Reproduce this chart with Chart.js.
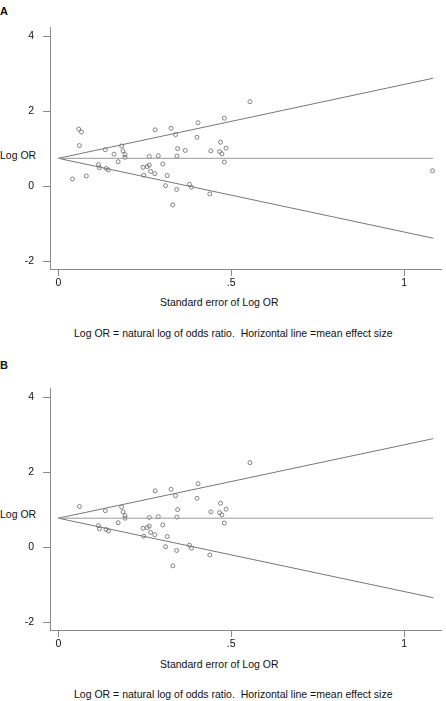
<!DOCTYPE html>
<html>
<head>
<meta charset="utf-8">
<script src="https://cdn.jsdelivr.net/npm/chart.js@4.4.0/dist/chart.umd.min.js"></script>
<style>
  html, body { margin: 0; padding: 0; background: #fff; }
  #wrap { position: relative; width: 446px; height: 701px; overflow: hidden; font-family: "Liberation Sans", Arial, Helvetica, sans-serif; color: #111; }
  canvas { position: absolute; left: 0; }
  .t { position: absolute; font-size: 10.5px; line-height: 12px; white-space: pre; }
  .p { position: absolute; font-size: 11px; font-weight: bold; line-height: 12px; }
</style>
</head>
<body>
<div id="wrap">
  <div class="p" style="left:0px; top:5px;">A</div>
  <div class="t" style="left:0px; top:149px;">Log OR</div>
  <div class="t" style="left:160px; top:296px;">Standard error of Log OR</div>
  <div class="t" style="left:74px; top:327px;">Log OR = natural log of odds ratio.  Horizontal line =mean effect size</div>
  <canvas id="cA" width="446" height="300" style="top:0px;"></canvas>

  <div class="p" style="left:0px; top:359px;">B</div>
  <div class="t" style="left:0px; top:508px;">Log OR</div>
  <div class="t" style="left:160px; top:658px;">Standard error of Log OR</div>
  <div class="t" style="left:74px; top:688px;">Log OR = natural log of odds ratio.  Horizontal line =mean effect size</div>
  <canvas id="cB" width="446" height="300" style="top:361px;"></canvas>
</div>
<script>
// ---- tick labels ----
const xTickValues = [0, 0.5, 1];
const xTickLabels = ['0', '.5', '1'];
const yTickValues = [-2, 0, 2, 4];
const yTickLabels = ['-2', '0', '2', '4'];

// ---- Panel A: standard error and log OR of each study ----
const seA = [0.059, 0.067, 0.061, 0.041, 0.081, 0.116, 0.119, 0.138, 0.145, 0.136,
             0.161, 0.173, 0.183, 0.187, 0.193, 0.193, 0.247, 0.245, 0.257, 0.263,
             0.263, 0.267, 0.279, 0.280, 0.289, 0.302, 0.315, 0.310, 0.326, 0.339,
             0.345, 0.343, 0.342, 0.367, 0.379, 0.385, 0.404, 0.401, 0.438, 0.441,
             0.469, 0.466, 0.473, 0.480, 0.485, 0.480, 0.331, 0.554, 1.082];
const lorA = [1.53, 1.45, 1.09, 0.20, 0.28, 0.58, 0.50, 0.48, 0.44, 0.98,
              0.86, 0.66, 1.08, 0.95, 0.85, 0.78, 0.30, 0.51, 0.53, 0.57,
              0.80, 0.40, 0.34, 1.51, 0.82, 0.60, 0.29, 0.02, 1.55, 1.38,
              1.01, 0.81, -0.08, 0.96, 0.06, -0.02, 1.70, 1.31, -0.20, 0.95,
              1.18, 0.93, 0.87, 1.82, 1.02, 0.65, -0.49, 2.26, 0.42];

// ---- Panel B ----
const seB = [0.061, 0.116, 0.119, 0.138, 0.145, 0.136, 0.173, 0.183, 0.187, 0.193,
             0.193, 0.247, 0.245, 0.257, 0.263, 0.263, 0.267, 0.279, 0.280, 0.289,
             0.302, 0.315, 0.310, 0.326, 0.339, 0.345, 0.343, 0.342, 0.379, 0.385,
             0.404, 0.401, 0.438, 0.441, 0.469, 0.466, 0.473, 0.485, 0.480, 0.331,
             0.554];
const lorB = [1.09, 0.58, 0.50, 0.48, 0.44, 0.98, 0.66, 1.08, 0.95, 0.85,
              0.78, 0.30, 0.51, 0.53, 0.57, 0.80, 0.40, 0.34, 1.51, 0.82,
              0.60, 0.29, 0.02, 1.55, 1.38, 1.01, 0.81, -0.08, 0.06, -0.02,
              1.70, 1.31, -0.20, 0.95, 1.18, 0.93, 0.87, 1.02, 0.65, -0.49,
              2.26];

// ---- funnel lines (end points) ----
const lineX = [0, 1.084];
const meanA = [0.75, 0.75];
const upperA = [0.75, 2.885];
const lowerA = [0.75, -1.38];
const meanB = [0.78, 0.78];
const upperB = [0.78, 2.90];
const lowerB = [0.78, -1.34];

const FONT = { family: '"Liberation Sans", Arial, Helvetica, sans-serif', size: 10.5 };
const AXIS_COLOR = '#8a8a8a';
const LINE_COLOR = '#777777';
const MEAN_COLOR = '#9a9a9a';

function pts(xs, ys) { return xs.map((x, i) => ({ x: x, y: ys[i] })); }

function lineDs(ys, color) {
  return {
    data: pts(lineX, ys), showLine: true, pointRadius: 0,
    borderColor: color, borderWidth: 1, fill: false
  };
}

function makeChart(id, se, lor, mean, upper, lower) {
  return new Chart(document.getElementById(id), {
    type: 'scatter',
    data: {
      datasets: [
        lineDs(mean, MEAN_COLOR), lineDs(upper, LINE_COLOR), lineDs(lower, LINE_COLOR),
        {
          data: pts(se, lor), showLine: false,
          pointStyle: 'circle', pointRadius: 2,
          pointBackgroundColor: 'rgba(0,0,0,0)',
          pointBorderColor: '#666666', pointBorderWidth: 0.8
        }
      ]
    },
    options: {
      responsive: false, animation: false,
      layout: { padding: { top: 27, left: 0, right: 0, bottom: 0 } },
      plugins: { legend: { display: false }, tooltip: { enabled: false } },
      scales: {
        x: {
          type: 'linear', min: -0.024, max: 1.107,
          afterBuildTicks: s => { s.ticks = xTickValues.map(v => ({ value: v })); },
          afterFit: s => { s.height = 31; },
          ticks: {
            callback: (v, i) => xTickLabels[i],
            font: FONT, color: '#111', padding: 1,
            maxRotation: 0, autoSkip: false
          },
          grid: { drawOnChartArea: false, drawTicks: true, tickLength: 7, color: AXIS_COLOR },
          border: { display: true, color: AXIS_COLOR, width: 1 }
        },
        y: {
          type: 'linear', min: -2.2, max: 4.25,
          afterBuildTicks: s => { s.ticks = yTickValues.map(v => ({ value: v })); },
          afterFit: s => { s.width = 50; },
          ticks: {
            callback: (v, i) => yTickLabels[i],
            font: FONT, color: '#111', padding: 9, autoSkip: false
          },
          grid: { drawOnChartArea: false, drawTicks: true, tickLength: 7, color: AXIS_COLOR },
          border: { display: true, color: AXIS_COLOR, width: 1 }
        }
      }
    }
  });
}

makeChart('cA', seA, lorA, meanA, upperA, lowerA);
makeChart('cB', seB, lorB, meanB, upperB, lowerB);
</script>
</body>
</html>
